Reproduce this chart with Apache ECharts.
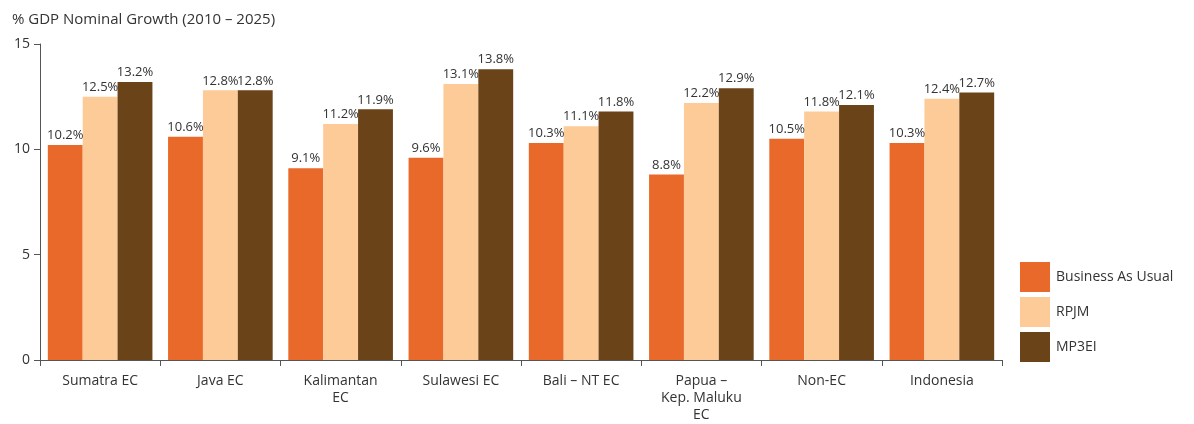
<!DOCTYPE html>
<html>
<head>
<meta charset="utf-8">
<script src="https://cdn.jsdelivr.net/npm/echarts@6/dist/echarts.min.js"></script>
<style>
  html, body { margin: 0; padding: 0; background: #fff; }
  #chart { width: 1194px; height: 424px; }
</style>
</head>
<body>
<div id="chart"></div>
<script>
const categories = ["Sumatra EC", "Java EC", "Kalimantan\nEC", "Sulawesi EC", "Bali – NT EC", "Papua –\nKep. Maluku\nEC", "Non-EC", "Indonesia"];
const businessAsUsual = [10.2, 10.6, 9.1, 9.6, 10.3, 8.8, 10.5, 10.3];
const rpjm = [12.5, 12.8, 11.2, 13.1, 11.1, 12.2, 11.8, 12.4];
const mp3ei = [13.2, 12.8, 11.9, 13.8, 11.8, 12.9, 12.1, 12.7];

var chart = echarts.init(document.getElementById("chart"));
var font = "'Open Sans', 'Noto Sans', sans-serif";
var labelStyle = {
  show: true,
  position: "top",
  distance: 3,
  color: "#333",
  fontSize: 13,
  fontFamily: font,
  formatter: function (p) {
    return p.value.toFixed(1) + "%";
  },
};

var option = {
  backgroundColor: "#fff",
  animation: false,
  textStyle: { fontFamily: font },
  title: {
    text: "% GDP Nominal Growth (2010 – 2025)",
    left: 7,
    top: 7,
    textStyle: { fontSize: 15, fontWeight: "normal", color: "#333", fontFamily: font },
  },
  legend: {
    orient: "vertical",
    left: 1020,
    top: 262,
    padding: 0,
    itemWidth: 30,
    itemHeight: 30,
    itemGap: 5,
    icon: "rect",
    textStyle: { fontSize: 14, color: "#333", fontFamily: font, padding: [0, 0, 0, 1] },
    data: ["Business As Usual", "RPJM", "MP3EI"],
  },
  grid: {
    left: 40,
    top: 44,
    width: 962,
    height: 320,
    containLabel: false,
  },
  xAxis: {
    type: "category",
    data: categories,
    axisLine: { lineStyle: { color: "#555", width: 1 } },
    axisTick: { show: true, length: 6, inside: false, lineStyle: { color: "#555" } },
    axisLabel: { color: "#333", fontSize: 14, fontFamily: font, margin: 13, lineHeight: 17 },
  },
  yAxis: {
    type: "value",
    min: 0,
    max: 15,
    interval: 5,
    axisLine: { show: true, lineStyle: { color: "#555", width: 1 } },
    axisTick: { show: true, length: 6, lineStyle: { color: "#555" } },
    splitLine: { show: false },
    axisLabel: { color: "#333", fontSize: 14, fontFamily: font, margin: 10 },
  },
  series: [
    {
      name: "Business As Usual",
      type: "bar",
      data: businessAsUsual,
      barGap: "0%",
      barCategoryGap: "13%",
      itemStyle: { color: "#E8692A" },
      label: labelStyle,
    },
    {
      name: "RPJM",
      type: "bar",
      data: rpjm,
      itemStyle: { color: "#FDCB97" },
      label: labelStyle,
    },
    {
      name: "MP3EI",
      type: "bar",
      data: mp3ei,
      itemStyle: { color: "#6B4319" },
      label: labelStyle,
    },
  ],
};
chart.setOption(option);
</script>
</body>
</html>
